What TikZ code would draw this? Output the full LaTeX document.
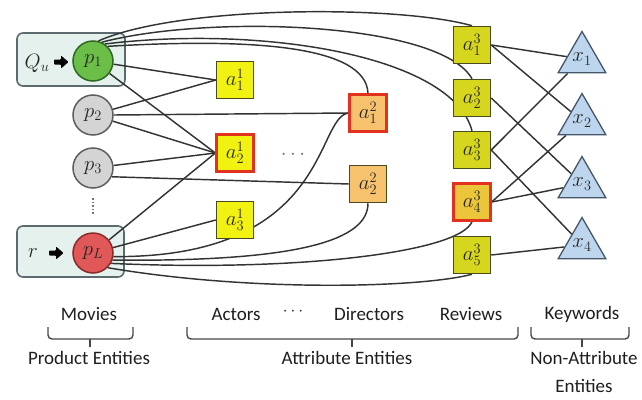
\documentclass[tikz,border=0pt]{standalone}
\usepackage{fontspec}
\setsansfont{Carlito}
\usetikzlibrary{shapes.geometric}
\pgfdeclarelayer{boxes}
\pgfdeclarelayer{edges}
\pgfsetlayers{boxes,edges,main}

\definecolor{edgec}{HTML}{333333}
\definecolor{yel}{HTML}{F2F212}
\definecolor{olive}{HTML}{D6D61E}
\definecolor{ybord}{HTML}{4A4A1C}
\definecolor{redb}{HTML}{E0321E}
\definecolor{orng}{HTML}{F7C26E}
\definecolor{mixy}{HTML}{ECC63A}
\definecolor{pgreen}{HTML}{6BBE48}
\definecolor{pgreenb}{HTML}{2E6822}
\definecolor{pgray}{HTML}{D4D4D4}
\definecolor{pgrayb}{HTML}{5E5E5E}
\definecolor{pred}{HTML}{E05858}
\definecolor{predb}{HTML}{8A2A2A}
\definecolor{boxf}{HTML}{E4F1EC}
\definecolor{boxb}{HTML}{5C6A70}
\definecolor{tri}{HTML}{BDD6EE}
\definecolor{trib}{HTML}{46566A}

\tikzset{
  nodefont/.style={font=\fontsize{22}{26}\selectfont, text=black!85},
  attr/.style={nodefont, draw=ybord, line width=1.5pt, minimum size=37pt, inner sep=0pt},
  aone/.style={attr, fill=yel},
  athree/.style={attr, fill=olive},
  hl/.style={draw=redb, line width=2.3pt},
  prod/.style={nodefont, circle, minimum size=40pt, inner sep=0pt, line width=1.5pt},
  kw/.style={nodefont, regular polygon, regular polygon sides=3, minimum size=55pt,
    inner sep=0pt, draw=trib, fill=tri, line width=1.3pt},
  link/.style={draw=edgec, line width=1.45pt},
  groupbox/.style={draw=boxb, fill=boxf, line width=1.6pt, rounded corners=6pt},
  brace/.style={draw=black!72, line width=1.4pt, rounded corners=4pt},
  lab/.style={font=\sffamily\fontsize{19}{22}\selectfont, text=black!88, inner sep=0pt},
}

\begin{document}
\begin{tikzpicture}[x=1pt,y=-1pt]
\useasboundingbox (0,0) rectangle (642,399);

% product entities
\node[prod, fill=pgreen, draw=pgreenb] (p1) at (93,61) {$p_1$};
\node[prod, fill=pgray, draw=pgrayb] (p2) at (93,115) {$p_2$};
\node[prod, fill=pgray, draw=pgrayb] (p3) at (93,168) {$p_3$};
\node[prod, fill=pred, draw=predb] (pL) at (93,253) {$p_L$};
\coordinate (vdtop) at (93,198);
\coordinate (vdbot) at (93,215);
\draw[black!55, line width=1.6pt, dash pattern=on 1.6pt off 2pt] (vdtop) -- (vdbot);

\node[nodefont] (qu) at (37,63) {$Q_u$};
\node[nodefont] (rr) at (33,253) {$r$};

% white page and the query / target groups
\begin{pgfonlayer}{boxes}
  \fill[white] (0,0) rectangle (642,399);
  \draw[groupbox] (17,33) rectangle (125,86);
  \draw[groupbox] (17,226) rectangle (124,277);
\end{pgfonlayer}
\fill[black, rounded corners=0.8pt] (54,59.5) -- (61,59.5) -- (61,55.5) -- (68.5,62) -- (61,68.5) -- (61,64.5) -- (54,64.5) -- cycle;
\fill[black, rounded corners=0.8pt] (49,250.5) -- (56,250.5) -- (56,246.5) -- (63.5,253) -- (56,259.5) -- (56,255.5) -- (49,255.5) -- cycle;

% attribute entities
\node[aone] (a11) at (235,80) {$a^1_1$};
\node[aone, hl] (a12) at (235,153) {$a^1_2$};
\node[aone] (a13) at (235,220) {$a^1_3$};
\node[nodefont, text=black!55] (hd) at (293,155) {$\cdots$};
\node[attr, fill=orng, hl] (a21) at (368,113) {$a^2_1$};
\node[attr, fill=orng] (a22) at (368,184) {$a^2_2$};
\node[athree] (a31) at (472,45) {$a^3_1$};
\node[athree] (a32) at (472,98) {$a^3_2$};
\node[athree] (a33) at (472,150) {$a^3_3$};
\node[attr, fill=mixy, hl] (a34) at (472,202) {$a^3_4$};
\node[athree] (a35) at (472,255) {$a^3_5$};

% keyword entities
\node[kw] (x1) at (582,59) {$x_1$};
\node[kw] (x2) at (582,121) {$x_2$};
\node[kw] (x3) at (582,184) {$x_3$};
\node[kw] (x4) at (582,245) {$x_4$};

\begin{pgfonlayer}{edges}
  % straight links
  \draw[link] (p1) -- (a11.west);
  \draw[link] (p1) -- (a12.west);
  \draw[link] (p2) -- (a11.west);
  \draw[link] (p2.east) -- (a21.west);
  \draw[link] (p2) -- (a12.west);
  \draw[link] (p3) -- (a12.west);
  \draw[link] (p3.-25) -- (a22.west);
  \draw[link] (pL) -- (a12.west);
  \draw[link] (pL) -- (a13.west);
  % long links over the top
  \draw[link] (p1.75) .. controls (180,5) and (400,5) .. (a31.north);
  \draw[link] (p1.65) .. controls (210,14) and (440,22) .. (a32.north);
  \draw[link] (p1.55) .. controls (260,25) and (452,55) .. (a33.north);
  \draw[link] (p1.45) .. controls (250,38) and (366,45) .. (a21.north);
  % long links underneath
  \draw[link] (pL.-10) .. controls (330,258) and (315,118) .. (a21.west);
  \draw[link] (pL.-20) .. controls (300,262) and (368,240) .. (a22.south);
  \draw[link] (pL.-30) .. controls (300,272) and (460,252) .. (a34.south);
  \draw[link] (pL.-45) .. controls (250,292) and (420,288) .. (a35.south);
  % reviews to keywords
  \draw[link] (a31.east) -- (x1);
  \draw[link] (a31.east) -- (x2);
  \draw[link] (a32.east) -- (x3);
  \draw[link] (a33.east) -- (x1);
  \draw[link] (a33.east) -- (x4);
  \draw[link] (a34.east) -- (x2);
  \draw[link] (a34.east) -- (x3);
  \draw[link] (a35.east) -- (x4);
\end{pgfonlayer}

% category labels
\node[lab] (lmov) at (89,314) {Movies};
\node[lab] (lact) at (236,314) {Actors};
\node[lab] (ldots) at (293,312) {$\cdots$};
\node[lab] (ldir) at (369,314) {Directors};
\node[lab] (lrev) at (471,314) {Reviews};
\node[lab] (lkey) at (582,314) {Keywords};

\draw[brace] (48,327) -- (48,339) -- (133,339) -- (133,327);
\draw[brace] (90,339) -- (90,347);
\draw[brace] (187,327) -- (187,339) -- (518,339) -- (518,327);
\draw[brace] (352,339) -- (352,347);
\draw[brace] (531,327) -- (531,339) -- (629,339) -- (629,327);
\draw[brace] (582,339) -- (582,347);

\node[lab] (lprod) at (89,358) {Product Entities};
\node[lab] (lattr) at (347,358) {Attribute Entities};
\node[lab] (lnon) at (584,358) {Non-Attribute};
\node[lab] (lent) at (584,386) {Entities};
\end{tikzpicture}
\end{document}
